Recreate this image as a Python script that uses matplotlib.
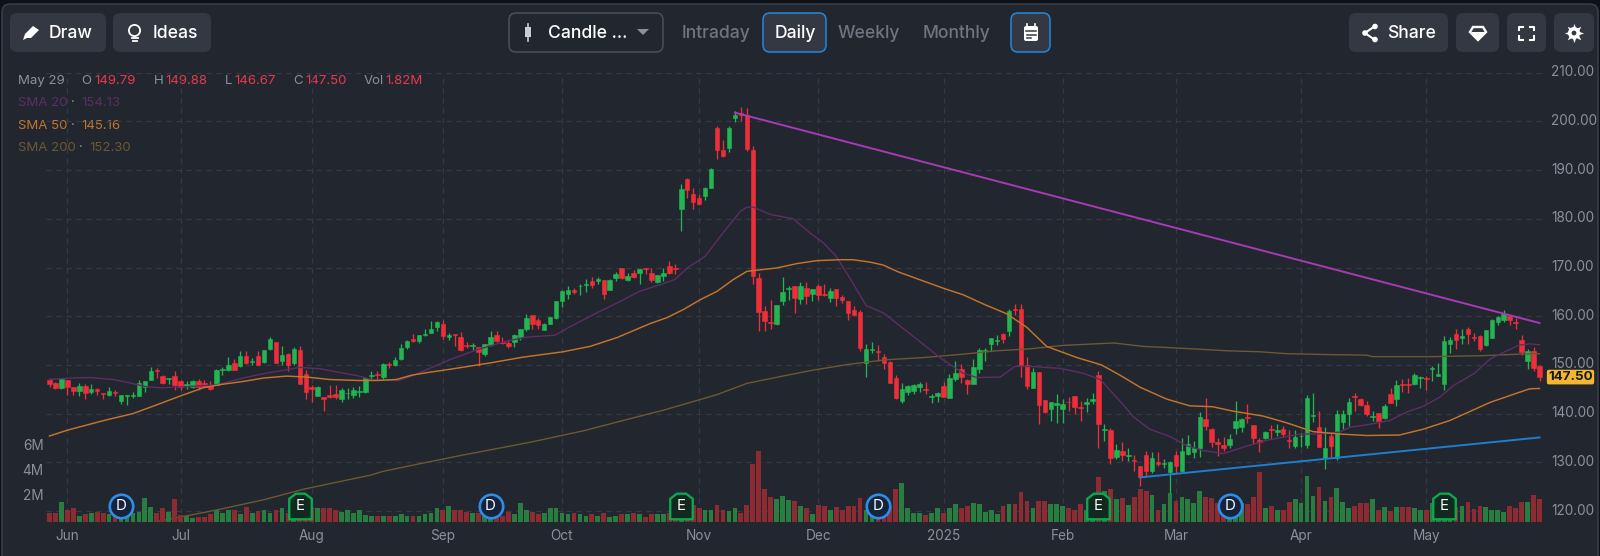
import matplotlib
matplotlib.use("Agg")
import matplotlib.pyplot as plt
from matplotlib.patches import FancyBboxPatch, Circle, Polygon, Rectangle
from matplotlib.path import Path
from matplotlib.transforms import ScaledTranslation

plt.rcParams['font.family'] = ['Inter', 'DejaVu Sans']

opens = [147,146.3,145.3,146.8,145.4,144.65,145.75,144.5,145,144.3,143.9,144.4,142.5,143.55,143.7,143.6,145.5,146.9,148.9,147.8,
147.1,147.7,146.7,145.7,145.5,146.7,146.2,145.8,145.9,148.9,148.9,150.3,149.7,151.8,150.6,151.8,150.5,153.2,154.7,150.7,
152.3,150.3,153.1,148.1,145.5,143.7,143.4,143.8,144.1,143.1,144.2,143.8,144.5,144.5,147.7,148.1,147.6,150.2,150,151.2,
153.7,155.3,154.9,156.2,156.6,157.8,158.5,155.7,156.3,155.7,154.1,153.9,153.6,152.3,154.1,156.2,154.7,154.5,154.6,155.7,
157.3,160.3,159.3,157.2,158.5,159.7,163.1,164.6,165.3,166.2,166.4,167.3,167.2,167.4,165.3,167.8,169.9,167.4,168.9,168.8,
169.9,168.9,167.1,168.2,170.4,169.9,182,188.2,185.1,184.3,184.6,186.4,198.7,194.2,194.5,200.6,201.7,201.4,194.2,167.9,
161.1,158.8,158.5,163.1,165.5,166.3,163.6,165.8,164.5,166.3,164.6,163.8,165.6,163.9,163.2,161.3,160.8,150.3,153,152.8,
151.7,150.6,147.4,142.6,144.5,144.7,145.4,145.1,143.4,143.6,145.6,143.3,147.2,149.1,146.9,146.1,149.1,152.9,154.2,155,
156.4,157,161.4,161.5,150,145.3,148.6,142.7,140.9,141.7,140.9,142.4,143.7,141.3,142,142.5,147.9,136.6,136.6,131,
132.3,131.2,130.4,129.3,131.4,128.2,130,129.6,128,131.6,128.2,131.7,132.1,132.9,138.9,136.8,134.1,133.6,133.6,137,
137.3,139.2,137.7,134.6,135,136.8,136.3,136.8,134.6,133.4,135.3,133.6,139.5,137.2,130.8,135.3,130.8,138.2,139.9,143.6,
143,141.8,139.4,140.1,139.1,144,143,146.1,146.1,146.1,147.3,147.3,149.1,147.8,146.1,154.3,156.4,155.5,157.4,155.8,
156,154,155.5,158.9,159.2,160,158.9,155.2,150.8,152.8,149.79]
highs = [147.3,146.4,147.3,147,145.4,146.2,146,146,145.3,144.3,145.4,144.9,143.8,143.9,144.4,146.8,146.7,149.5,149.3,147.9,
147.4,148.8,146.8,146.6,146.9,147.1,147,146.7,149.2,149.5,151.6,151.2,152.9,152.9,151.4,152.9,153,155.7,154.7,153.8,
152.5,153.6,153.8,149,145.8,145.6,143.5,145.9,145.9,145.3,145.2,145.5,145.7,147.4,148.8,148.8,150.3,150.6,151.7,154.2,
155.1,156.4,156.2,157.4,159,159,159.3,156.6,156.3,156.8,154.8,154.5,153.6,154.3,156.9,156.9,155.7,155.1,156.4,157.4,
160.5,160.3,159.7,158.6,159.9,163.2,165.3,166.1,165.8,166.6,167.6,168,168,167.4,167.6,169.1,169.9,168.8,169.5,169.7,
170,169.8,168.4,169.8,171.4,170.7,187.2,188.4,186.3,185.1,186.5,190.4,199.1,196.1,199.1,202.2,202.9,202.7,194.9,168.9,
162,163.4,162.4,168,166.3,166.3,167,167,165.6,166.7,166.7,165.8,165.6,164.3,163.2,162.1,161.2,154.3,154.7,154.1,
152.2,150.8,147.9,146.3,145.8,146,146.5,146.5,144,144.5,146.5,148.1,150.7,150.1,147.1,151.2,153.4,153.4,155.5,156.2,
156.6,161.5,162.5,162.5,151.7,149.3,148.6,142.7,142.4,144,143,143.5,143.7,142.6,143.2,144.2,148.8,137.8,137.1,133.7,
134.1,132.9,131.4,129.3,132.3,132.1,132.1,130.7,130.2,132.3,135,135.7,134.3,140.4,143.2,137,134.9,135.1,135.8,142.5,
139,142,137.7,134.9,136.5,137.7,137.9,137.4,136.6,136.6,136,143.8,144.2,140.5,137.2,136,140.8,140.8,143.2,144.2,
143.2,142.5,140.6,140.1,142,145.2,146.8,147.1,147.4,148.4,147.8,147.8,149.7,150.4,156,155.8,157.3,157.3,157.7,156.6,
156.2,157.2,159.5,160,161.2,160.1,159.7,156.2,153.3,153.6,149.88]
lows = [145.5,145,145.1,143.9,143.9,143.6,143.1,144.1,143.9,143.1,143.6,143.6,142,141.8,143.2,143.6,144.4,146.8,147.3,146,
146,144.9,144.9,145,145.3,144.9,145.5,144.9,145.9,147.9,148.8,148.9,149.6,150.2,150,149.9,150.3,153,150.4,150,
148.8,149.9,146,142.9,142.3,143.6,140.5,143.3,143.1,142.3,143,143.3,143.4,144.3,146.9,147,147.2,149.3,149.7,151,
153.2,154.7,154.5,155.9,156.5,157,155.3,155.1,153.8,152.9,153.4,153.1,149.7,151.9,153.8,154.7,154.2,153.4,153.6,155.1,
157,157.4,157.4,157.2,158.5,159.5,161.8,163.5,164.5,164.3,164.9,165.8,166.6,163.5,165.3,167.3,167.7,167.3,167.8,166.6,
168.6,167.1,166.9,167.3,168.6,168.6,177.4,184.3,182,182.8,183.8,186.4,192.3,192.7,193.8,199.9,200.1,194,166.7,156.9,
156.9,157.4,158.1,162.3,163.3,160.7,162.6,162.6,163.1,163.3,164.1,162.9,162.1,162.7,159.3,160,152.8,147.6,152.5,150.8,
149.1,146.2,142.9,142.1,143.8,144,144.5,144,142.1,142.4,143.4,143.2,146.7,146.3,144,146.1,148.3,150.9,152.9,154,
154.5,156,160.3,147.6,145,145.2,137.8,140.1,138.5,138,138.1,140.5,140,138.5,140.3,141.9,132.9,134.4,129.6,130.6,
130.2,130.2,128.2,125.2,127.1,127.8,129.3,128.8,123.7,127.8,127.8,131.6,130.9,131,136.7,133.1,131.2,132.4,132.9,135.9,
136.3,138.1,133.8,132.2,134.8,134.8,135.3,135.1,132.9,133,133.2,132.9,138.2,133.1,128.6,131,130.5,136.8,137.4,140.5,
141.6,139.6,138.4,137.1,138.9,142.1,141.5,144.5,144.2,145.8,145.2,144.9,146.6,147.8,144.9,152.5,153.3,154.3,154.3,155,
152.9,153.8,155.5,158.1,158.9,158.1,157.3,152.1,149.2,148.7,146.67]
closes = [146,145.3,147.2,145.5,144.7,145.75,144.25,145.1,144.7,144,144.6,144.2,143.8,143.9,143.85,146.2,146.7,148.7,148.75,146.2,
147.3,145.9,145.5,146,146.7,145.5,145.5,145.1,149,149.2,150,149,151.8,150.3,150.9,150,153,155.3,150.4,152.1,
150,153.2,146.1,144.4,145.1,145.4,142.9,143.4,143.4,144.8,144.3,144.9,144.7,147.3,147.9,147.9,150.2,150,151,153.4,
155,154.9,156.2,156.4,157.4,158.8,155.9,156.1,156.1,153,153.8,154.1,152.6,154.2,155.7,154.9,154.4,153.8,156.2,157.3,
159.7,158.5,158.2,158.5,159.9,163.2,165.1,165.4,165,166.3,166.6,166.5,167.6,164.5,167.4,168.6,167.8,168.2,168.1,169.6,
169.7,167.4,168.4,168.9,168.8,169.7,186.1,185.9,183.4,183,186.4,190.3,194.2,192.8,198.6,201.4,201.4,194.4,168.2,160.8,
159,158.6,162.4,164.9,165.7,163.8,166.2,164.1,165.6,164.4,164.4,165.1,163.8,163.3,160.6,160.2,153.5,153.2,153.3,152.6,
150.3,146.3,143.3,145,145.6,145.8,146,144.9,143.6,144.2,143.5,147.4,148.3,147.6,146.1,149.6,153.1,153.1,155.5,155.1,
155.3,161,161.2,149.7,145.7,148.6,141.7,140.3,142.4,142.1,141.9,142.3,141.4,141.1,142.4,143,137.8,136.9,130.8,132.5,
131.4,131.6,130.2,127,128.2,130.9,129.7,129.9,130,129.2,132.3,133.8,132.9,139.4,137.5,134.1,133.8,132.9,134.8,138.4,
138.9,139,135,134.1,136.2,136.6,136.6,135.8,134.4,135.1,135.5,143.2,139.7,133.2,133,133.4,139.9,139.9,142.3,143.4,
141.8,139.9,139.6,138.4,141.6,142.1,145.8,145.9,145.9,147.9,147.5,147.1,149.3,148.1,155,155.1,155.1,156,156.4,155.6,
153.2,157.1,159.3,159.8,160.5,159.2,158.7,152.6,152.8,149.4,147.5]
volumes = [.69,.69,1.6,.99,1.12,.51,.61,.72,.83,.72,.67,.59,.59,.59,.72,.83,1.89,1.2,.72,1.12,
.83,1.81,.59,.45,.32,.43,.43,.61,.99,.72,.99,.93,.61,1.2,.72,.91,.93,.72,.99,1.12,
.72,.72,.75,.72,1.2,1.12,1.12,1.12,.93,.83,.99,.72,.99,.59,.51,.51,.51,.51,.51,.61,
.51,.51,.51,.61,.72,1.12,.93,1.31,.93,.93,.83,.72,.72,.45,.59,.45,.51,.83,.61,1.52,
.99,.8,.61,.72,1.12,1.12,.72,.61,.72,.61,.51,.61,.51,.72,.43,.51,.61,.61,.72,.61,
.4,.61,.61,.61,.72,.59,.72,.72,1.39,1.12,.99,.99,1.39,.99,.91,1.12,.72,1.39,4.67,5.68,
2.67,2.0,1.87,2.08,1.79,1.68,1.31,1.12,.61,1.39,1.31,.99,1.2,.99,1.31,1.31,1.89,.99,.72,.59,
.85,1.31,2.64,3.12,1.12,.72,.72,.59,.72,1.12,.72,1.12,1.41,1.12,1.31,1.52,1.41,.83,.99,.61,
1.31,1.41,1.41,2.4,1.71,1.12,1.71,1.71,1.41,1.41,1.31,1.12,.99,1.41,.99,1.12,3.6,2.45,2.64,1.84,
1.89,1.39,1.97,2.64,2.45,2.19,.93,1.41,2.32,1.71,2.0,1.84,1.52,2.51,2.0,1.89,1.52,1.52,1.52,1.52,
1.52,1.41,2.0,4.03,1.12,1.31,.99,.99,1.63,1.81,1.52,3.71,2.11,2.8,1.71,2.0,2.69,1.63,1.12,1.31,
1.52,1.52,1.81,.99,1.2,.91,1.2,1.2,1.2,1.12,.99,.99,1.52,1.65,2.0,1.2,1.2,1.31,1.63,1.04,
1.31,1.2,.99,.93,.83,1.31,1.12,1.6,1.6,2.19,1.82]

sma20_idx = [0,3.4,6.8,10.7,13.5,16.3,19,22.4,28,32.5,35.9,39.8,42,45.4,48.5,52,54.3,58.5,60.8,63.8,67.2,71.7,76.7,80,84.8,87.3,91.2,95.2,99,
103,105,107,110,113,115.9,117,118.1,120.9,124.8,127.6,129.8,132,134.8,137,140,142.7,145.5,149.4,153.3,155.6,159.5,162,164.5,169.5,173.4,176.3,179.3,181.9,184.6,
188,190.8,193.6,197,200.3,204.2,207.6,209.8,212.6,216.5,218.2,221,224.9,227.7,230.5,233.3,235.6,239,241.7,244.5,246.7,248.4,250]
sma20_val = [147,147.3,147.4,147,146.3,145.5,145.3,145.5,145.9,147.3,148.2,149,149.5,149.2,148.5,147.7,146.9,146.8,147.7,149.3,151.1,153.1,154.9,155.7,156.1,157.8,160.3,162.7,165.1,
166.7,167.6,169.9,172.3,177.1,181.5,182.4,182.4,180.9,180,177.1,175.1,172.3,166.8,162.2,160.6,158,155.3,151.5,148.3,147.4,147.5,149.7,149.7,149.3,148.3,147,143,139.3,136.8,
135.3,133.4,132.4,131.8,133.1,134.5,135.3,135.8,135.8,136.2,137.2,137.7,138.6,140.3,141.5,143.4,145.8,148.2,151.2,152.9,154.1,154.3,154.13]

sma50_idx = [0,3,9.5,14,18,21.9,25.8,28.9,32.5,35.9,39.8,43.2,47,51.8,54.9,58.2,60.8,63.8,67.2,73.9,79.5,86.2,90.7,95.2,100.8,103.6,106.4,109.2,112,114.7,117,119.8,
122,125.4,128.7,132.6,134.8,137.7,139.9,142.4,150.3,153.3,156.7,160.6,164,167.3,172.4,176.5,179.6,183,187.4,191.3,195.2,198.6,203.6,207.6,212,216.5,221,226.5,230.5,235,241.7,246.2,248.4,250]
sma50_val = [135.4,136.6,138.7,140,141.8,143.6,145.3,146,146.6,147.3,147.7,147.5,147,146.8,146.8,147,147.9,148.5,149.1,150.4,151.6,152.7,153.8,155.6,158.5,159.7,161.4,163.4,165.1,167.5,169.2,169.6,
169.9,170.8,171.4,171.6,171.6,171.1,170.5,169.1,165.6,164.4,162.5,160.5,157.7,153.8,151.5,150,147.9,145.4,143,141.6,141.4,140.5,139.5,138.1,136.3,135.8,135.5,135.6,136.8,138.6,142.3,144.2,145.1,145.16]

sma200_idx = [18.4,21.7,28,35.9,42.7,54,55.8,63.7,69.4,80.6,89.7,96.6,103,109.2,112,117,123,128,134,139.9,141,146.6,153.3,158.9,164.5,170,176.8,178.6,183.5,190.3,197.6,203,207.6,215.4,221,222,232,240.6,248.4,250]
sma200_val = [117.9,118.7,120.2,122.3,124.5,127.4,128.1,130.1,131.5,134.1,136.5,138.7,140.7,142.9,143.9,146.2,147.7,148.9,150.1,151,151.1,151.5,152.2,152.9,153.3,154,154.4,154.5,153.8,153.4,152.9,152.7,152.3,152.1,152,151.7,151.7,151.9,152.3,152.3]

resist_idx = [115, 250]
resist_val = [201.8, 158.6]
support_idx = [183, 250]
support_val = [126.9, 135.1]

dividend_idx = [12, 74, 139, 198]
earnings_idx = [42, 106, 176, 234]

month_idx = [3, 22, 44, 66, 86, 109, 129, 150, 170, 189, 210, 231]
month_labels = ['Jun', 'Jul', 'Aug', 'Sep', 'Oct', 'Nov', 'Dec', '2025', 'Feb', 'Mar', 'Apr', 'May']
price_ticks = [120, 130, 140, 150, 160, 170, 180, 190, 200, 210]
volume_ticks = [2, 4, 6]
volume_tick_labels = ['2M', '4M', '6M']

BG = '#22262f'; GRID = '#363a45'; AXTXT = '#8b909c'; BTN = '#343843'
UP = '#22b551'; DOWN = '#ee2f3a'; VUP = '#2a7d40'; VDOWN = '#8d2b33'
C20 = '#5e2d66'; C50 = '#c4752b'; C200 = '#6c5930'

W, H = 1600, 556
fig = plt.figure(figsize=(16, 5.56), dpi=100, facecolor='#0e1117')

# chrome layer
bgax = fig.add_axes([0, 0, 1, 1], zorder=0)
bgax.set_xlim(0, W); bgax.set_ylim(H, 0); bgax.axis('off')
bgax.add_patch(FancyBboxPatch((2, 4), W-4, H+30, boxstyle='round,pad=0,rounding_size=8', fc=BG, ec='#3d424e', lw=1))

L, R, T, B = 46, 1545, 72.7, 523
ax = fig.add_axes([L/W, 1-B/H, (R-L)/W, (B-T)/H], zorder=2)
ax.patch.set_alpha(0)
x0 = (L-49.5)/5.96; x1 = (R-49.5)/5.96
ax.set_xlim(x0, x1)
ax.set_ylim(210-(B-T)/4.87, 210)

vax = fig.add_axes(ax.get_position(), zorder=1)
vax.patch.set_alpha(0)
vax.set_xlim(x0, x1)
vax.set_ylim(-1/12.5, (522-T)/12.5)

idx = list(range(len(closes)))
is_up = [c >= o for o, c in zip(opens, closes)]
vax.bar(idx, volumes, width=0.8, color=[VUP if u else VDOWN for u in is_up], zorder=2, lw=0)

vax.set_yticks(volume_ticks)
vax.set_yticklabels(volume_tick_labels, color=AXTXT, fontsize=9.8)
vax.yaxis.tick_left()
vax.tick_params(axis='y', length=0, pad=1.6)
vax.set_xticks([])
for s in vax.spines.values():
    s.set_visible(False)
for lab in vax.get_yticklabels():
    lab.set_transform(lab.get_transform() + ScaledTranslation(0, 2.0/72, fig.dpi_scale_trans))

ax.set_yticks(price_ticks)
ax.set_yticklabels([f'{p:.2f}' for p in price_ticks], color=AXTXT, fontsize=9.8)
ax.yaxis.tick_right()
ax.tick_params(axis='y', length=0, pad=4.2)
for lab in ax.get_yticklabels():
    lab.set_transform(lab.get_transform() + ScaledTranslation(0, 1.4/72, fig.dpi_scale_trans))
ax.set_xticks(month_idx)
ax.set_xticklabels(month_labels, color=AXTXT, fontsize=9.8)
ax.tick_params(axis='x', length=0, pad=4.5)
ax.set_axisbelow(True)
ax.grid(True, color=GRID, lw=0.9, ls=(0, (4, 4)))
for s in ax.spines.values():
    s.set_visible(False)

colors = [UP if u else DOWN for u in is_up]
ax.vlines(idx, lows, highs, colors=colors, lw=0.95, zorder=3)
ax.bar(idx, [abs(c-o) for o, c in zip(opens, closes)], bottom=[min(o, c) for o, c in zip(opens, closes)],
       width=0.76, color=colors, edgecolor=colors, lw=0.4, zorder=4)

ax.plot(sma200_idx, sma200_val, color=C200, lw=1.0, zorder=5)
ax.plot(sma20_idx, sma20_val, color=C20, lw=1.0, zorder=5)
ax.plot(sma50_idx, sma50_val, color=C50, lw=1.05, zorder=5)
ax.plot(resist_idx, resist_val, color='#a63bb3', lw=1.4, zorder=6)
ax.plot(support_idx, support_val, color='#1f7fce', lw=1.4, zorder=6)

# events
house = Path([(-.44, -.5), (.44, -.5), (.44, .3), (.18, .5), (-.18, .5), (-.44, .3), (-.44, -.5)], closed=True)
ev_y = 1.27
vax.scatter(dividend_idx, [ev_y]*len(dividend_idx), marker='o', s=285, facecolor='#16233c', edgecolor='#2f8de4', lw=1.9, zorder=8)
vax.scatter(earnings_idx, [ev_y]*len(earnings_idx), marker=house, s=340, facecolor='#13281f', edgecolor='#0aa84f', lw=1.7, zorder=8)
for i in dividend_idx:
    vax.text(i, ev_y, 'D', color='white', fontsize=10.8, ha='center', va='center', zorder=9)
for i in earnings_idx:
    vax.text(i, ev_y, 'E', color='white', fontsize=10.8, ha='center', va='center', zorder=9)
vax.set_zorder(3)

# price tag
ax.text((1570.5-L)/(R-L), closes[-1], f'{closes[-1]:.2f}', transform=ax.get_yaxis_transform(), color='#15181e',
        fontsize=9.6, fontweight='bold', ha='center', va='center', clip_on=False, zorder=12,
        bbox=dict(boxstyle='round,pad=0.1,rounding_size=0.15', fc='#f2b632', ec='none'))

# toolbar
def btn(x0, x1, fc=BTN, ec='none', lw=0):
    bgax.add_patch(FancyBboxPatch((x0, 13), x1-x0, 39, boxstyle='round,pad=0,rounding_size=7', fc=fc, ec=ec, lw=lw))

def label(x, y, s, color='white', size=12.6, ha='left', weight='medium'):
    bgax.text(x, y, s, color=color, fontsize=size, ha=ha, va='center', fontweight=weight)

btn(10, 106); btn(113, 211)
btn(509, 663, fc=BG, ec='#4b505c', lw=1.1)
btn(763, 826, fc=BTN, ec='#2188e0', lw=1.1)
btn(1011, 1050, fc=BTN, ec='#2188e0', lw=1.1)
btn(1349, 1448); btn(1456, 1499); btn(1507, 1546); btn(1554, 1594)

ty = 33.5
label(49, ty, 'Draw'); label(153, ty, 'Ideas'); label(548, ty, 'Candle ...')
label(1387, ty, 'Share')
label(716, ty, 'Intraday', color='#6f7481', ha='center')
label(795, ty, 'Daily', ha='center')
label(869, ty, 'Weekly', color='#6f7481', ha='center')
label(957, ty, 'Monthly', color='#6f7481', ha='center')

# icons
bgax.add_patch(Polygon([(23, 40), (25, 34), (33, 26), (39, 30), (31, 38), (27, 38)], fc='white', ec='none'))
bgax.add_patch(Circle((134.5, 30.5), 5.6, fc='none', ec='white', lw=1.3))
bgax.plot([131.5, 137.5], [38, 38], color='white', lw=1.3)
bgax.plot([132.5, 136.5], [41, 41], color='white', lw=1.3)
bgax.plot([528, 528], [24, 41], color='#c9ccd3', lw=1.2)
bgax.add_patch(Rectangle((525, 27), 6, 10, fc='#c9ccd3', ec='none'))
bgax.add_patch(Polygon([(637, 29), (649, 29), (643, 35)], fc='#8b909c', ec='none'))
bgax.add_patch(FancyBboxPatch((1024, 26), 14, 15, boxstyle='round,pad=0,rounding_size=2', fc='white', ec='none'))
for yy, xa, xb in ((31, 1026, 1036), (34.5, 1027, 1036), (37.5, 1027, 1031)):
    bgax.plot([xa, xb], [yy, yy], color='#343843', lw=1.1)
bgax.plot([1027, 1027], [24, 27], color='white', lw=1.2); bgax.plot([1035, 1035], [24, 27], color='white', lw=1.2)
bgax.plot([1375, 1365, 1375], [26, 33, 40], color='white', lw=1.5)
for cx, cy in ((1375, 26.5), (1365, 33), (1375, 39.5)):
    bgax.add_patch(Circle((cx, cy), 2.8, fc='white', ec='none'))
bgax.add_patch(Polygon([(1473, 27), (1483, 27), (1486, 32), (1478, 40), (1470, 32)], fc='none', ec='white', lw=1.7))
bgax.add_patch(Polygon([(1471, 32), (1485, 32), (1478, 39.5)], fc='white', ec='none'))
for xs, ys in (([1519, 1519, 1523], [30, 26.5, 26.5]), ([1530, 1534, 1534], [26.5, 26.5, 30]),
               ([1519, 1519, 1523], [36, 39.5, 39.5]), ([1530, 1534, 1534], [39.5, 39.5, 36])):
    bgax.plot(xs, ys, color='white', lw=1.5)
bgax.scatter([1574], [33], marker=(8, 1, 0), s=190, c='white', lw=0)
bgax.add_patch(Circle((1574, 33), 6.0, fc='white', ec='none'))
bgax.add_patch(Circle((1574, 33), 2.4, fc=BTN, ec='none', zorder=5))

# header
RED = '#e53a4c'; GRY = '#8b909c'
hs = 9.5
label(18.5, 81, 'May 29', color=GRY, size=hs, weight='normal')
for x, s, c in ((81, 'O', GRY), (94, '149.79', RED), (154, 'H', GRY), (165, '149.88', RED), (225, 'L', GRY),
                (234, '146.67', RED), (293, 'C', GRY), (305, '147.50', RED), (364, 'Vol', GRY), (385, '1.82M', RED)):
    label(x, 81, s, color=c, size=hs, weight='normal')
for y, nm, dot_x, vx, val, c in ((103, 'SMA 20', 73, 81.5, '154.13', C20), (126, 'SMA 50', 73, 81.5, '145.16', C50),
                                 (148, 'SMA 200', 81, 89, '152.30', C200)):
    label(18.5, y, nm, color=c, size=hs, weight='normal')
    label(dot_x, y, '·', color='#8b909c', size=hs, ha='center', weight='normal')
    label(vx, y, val, color=c, size=hs, weight='normal')

fig.savefig('out.png', dpi=100, facecolor=fig.get_facecolor())
